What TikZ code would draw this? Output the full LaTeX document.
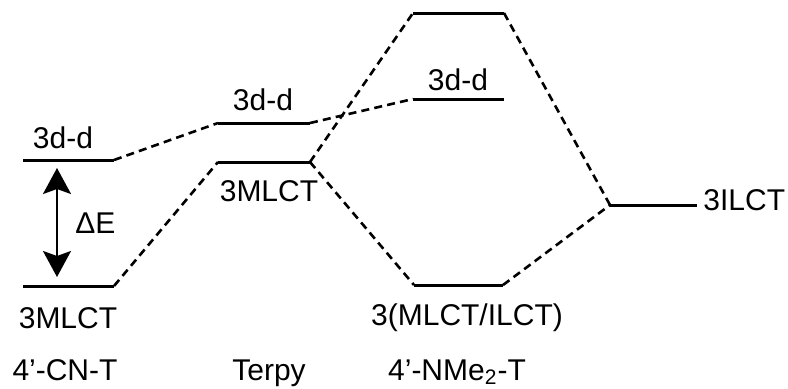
\documentclass[tikz,border=0pt]{standalone}
\usepackage{fontspec}
\setmainfont{Liberation Sans}
\usetikzlibrary{arrows.meta}

\begin{document}
\begin{tikzpicture}[
  x=0.5pt, y=-0.5pt,
  every node/.style={font=\fontsize{15}{18}\selectfont, inner sep=0pt},
  level/.style={line width=1.5pt},
  link/.style={line width=1.3pt, dash pattern=on 4pt off 2.6pt},
  gap/.style={line width=1.1pt,
    {Stealth[length=13pt, width=14pt, inset=2.5pt]}-{Stealth[length=13pt, width=14pt, inset=2.5pt]}}
]
  \useasboundingbox (0,0) rectangle (788,388);

  % Niveaux 4'-CN-T
  \coordinate (cnD-l) at (23,160);   \coordinate (cnD-r) at (114,160);
  \coordinate (cnM-l) at (23,286);   \coordinate (cnM-r) at (114,286);
  % Niveaux Terpy
  \coordinate (tpD-l) at (218,123);  \coordinate (tpD-r) at (310,123);
  \coordinate (tpM-l) at (218,162);  \coordinate (tpM-r) at (310,162);
  % Niveaux 4'-NMe2-T
  \coordinate (nmT-l) at (413,13);   \coordinate (nmT-r) at (504,13);
  \coordinate (nmD-l) at (413,99);   \coordinate (nmD-r) at (504,99);
  \coordinate (nmM-l) at (414,285);  \coordinate (nmM-r) at (503,285);
  % Niveau 3ILCT
  \coordinate (il-l) at (610,205);   \coordinate (il-r) at (697,205);

  \draw[level] (cnD-l) -- (cnD-r);
  \draw[level] (cnM-l) -- (cnM-r);
  \draw[level] (tpD-l) -- (tpD-r);
  \draw[level] (tpM-l) -- (tpM-r);
  \draw[level] (nmT-l) -- (nmT-r);
  \draw[level] (nmD-l) -- (nmD-r);
  \draw[level] (nmM-l) -- (nmM-r);
  \draw[level] (il-l) -- (il-r);

  % Correlations
  \draw[link] (cnD-r) -- (tpD-l);
  \draw[link] (cnM-r) -- (tpM-l);
  \draw[link] (tpD-r) -- (nmD-l);
  \draw[link] (tpM-r) -- (nmT-l);
  \draw[link] (tpM-r) -- (nmM-l);
  \draw[link] (nmT-r) -- (il-l);
  \draw[link] (nmM-r) -- (il-l);

  % Ecart Delta E
  \coordinate (gap-t) at (57,168);
  \coordinate (gap-b) at (57,277);
  \draw[gap] (gap-t) -- (gap-b);
  \node[anchor=base west] (dE) at (75,233) {ΔE};

  % Etiquettes
  \node[anchor=base] (cnD-lab) at (63,148) {3d-d};
  \node[anchor=base] (cnM-lab) at (68,328) {3MLCT};
  \node[anchor=base] (tpD-lab) at (263,110) {3d-d};
  \node[anchor=base] (tpM-lab) at (269,201) {3MLCT};
  \node[anchor=base] (nmD-lab) at (458,90) {3d-d};
  \node[anchor=base] (nmM-lab) at (467,325) {3(MLCT/ILCT)};
  \node[anchor=base west] (il-lab) at (703,210) {3ILCT};

  % Composes
  \node[anchor=base] (cn) at (65,380) {4’-CN-T};
  \node[anchor=base] (tp) at (269,380) {Terpy};
  \node[anchor=base] (nm) at (457,380) {4’-NMe\textsubscript{2}-T};
\end{tikzpicture}
\end{document}
